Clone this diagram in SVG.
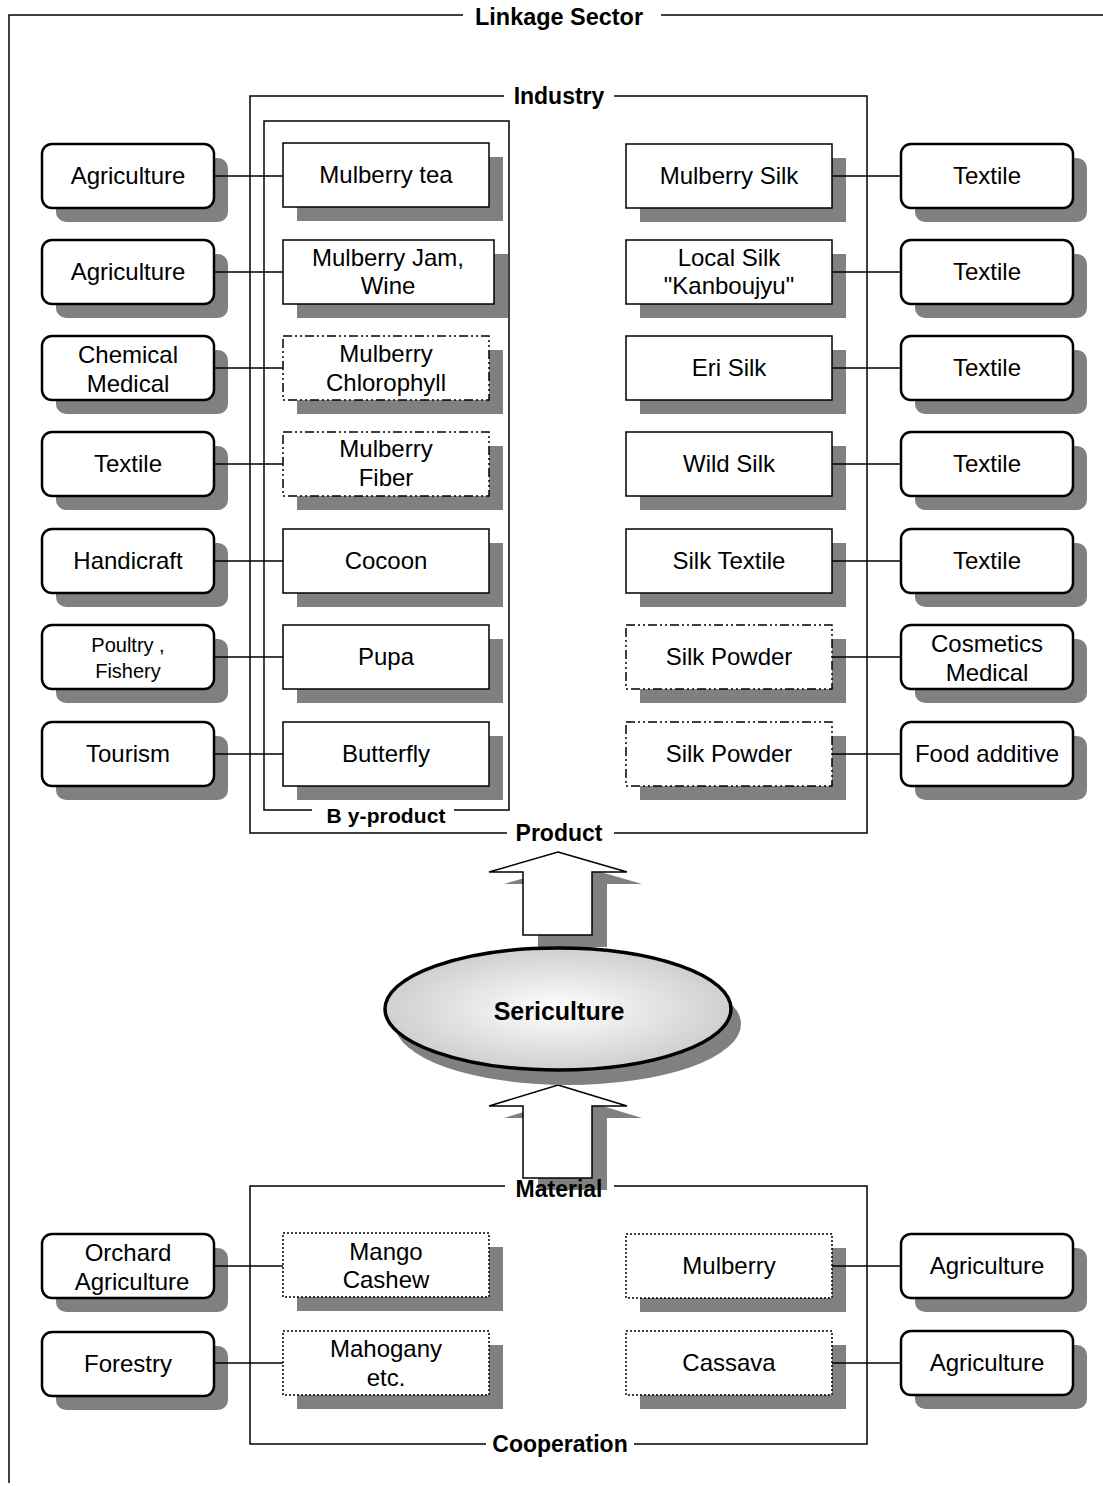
<svg xmlns="http://www.w3.org/2000/svg" width="1103" height="1486" viewBox="0 0 1103 1486">
<style>
.sh{fill:#808080;stroke:none}
.ext{fill:#fff;stroke:#000;stroke-width:2.5}
.prod{fill:#fff;stroke:#000;stroke-width:1.5}
.dd{stroke-dasharray:9 3 2 3 2 3}
.dot{stroke-dasharray:2 2}
.frame{fill:none;stroke:#000;stroke-width:1.5}
.conn{stroke:#000;stroke-width:1.5;fill:none}
.t{font-family:"Liberation Sans",Arial,sans-serif;font-size:24px;text-anchor:middle;fill:#000}
.ttl{font-family:"Liberation Sans",Arial,sans-serif;font-size:23px;font-weight:bold;text-anchor:middle;fill:#000}
.bg{fill:#fff;stroke:none}
</style>
<defs>
<radialGradient id="eg" cx="50%" cy="50%" r="50%">
<stop offset="0" stop-color="#ffffff"/>
<stop offset="1" stop-color="#cfcfcf"/>
</radialGradient>
</defs>
<rect width="1103" height="1486" fill="#fff"/>

<g id="frames">
<path class="frame" d="M1103,15 H9 V1483"/>
<rect class="bg" x="463" y="2" width="198" height="28"/>
<text class="ttl" x="559" y="25" textLength="168" lengthAdjust="spacingAndGlyphs">Linkage Sector</text>
<rect class="frame" x="250" y="96" width="617" height="737"/>
<rect class="frame" x="264" y="121" width="245" height="689"/>
<rect class="bg" x="504" y="84" width="110" height="24"/>
<text class="ttl" x="559" y="104">Industry</text>
<rect class="bg" x="507" y="820" width="107" height="26"/>
<text class="ttl" x="559" y="841">Product</text>
<rect class="bg" x="312" y="803" width="142" height="22"/>
<text class="ttl" x="386" y="823" style="font-size:21px" textLength="119" lengthAdjust="spacing">B y-product</text>
<rect class="frame" x="250" y="1186" width="617" height="258"/>
<rect class="bg" x="505" y="1175" width="109" height="24"/>
<rect class="bg" x="486" y="1432" width="148" height="26"/>
<text class="ttl" x="560" y="1452">Cooperation</text>
</g>

<g id="arrows">
<polygon class="sh" points="573,864 642,884 607,884 607,947 538,947 538,884 504,884"/>
<polygon fill="#fff" stroke="#000" stroke-width="1.5" points="558,852 627,872 592,872 592,935 523,935 523,872 489,872"/>
<polygon class="sh" points="573,1097 642,1118 607,1118 607,1190 538,1190 538,1118 504,1118"/>
<polygon fill="#fff" stroke="#000" stroke-width="1.5" points="558,1085 627,1106 592,1106 592,1178 523,1178 523,1106 489,1106"/>
<text class="ttl" x="559" y="1197">Material</text>
</g>

<g id="sericulture">
<ellipse class="sh" cx="568" cy="1024" rx="173" ry="61"/>
<ellipse cx="558" cy="1009" rx="173" ry="61" fill="url(#eg)" stroke="#000" stroke-width="3.5"/>
<text class="ttl" x="559" y="1020" style="font-size:25px">Sericulture</text>
</g>

<!-- Left external nodes -->
<g id="l1"><rect class="sh" x="56" y="158" width="172" height="64" rx="10"/><rect class="ext" x="42" y="144" width="172" height="64" rx="10"/><text class="t" x="128" y="184">Agriculture</text></g>
<g id="l2"><rect class="sh" x="56" y="254" width="172" height="64" rx="10"/><rect class="ext" x="42" y="240" width="172" height="64" rx="10"/><text class="t" x="128" y="280">Agriculture</text></g>
<g id="l3"><rect class="sh" x="56" y="350" width="172" height="64" rx="10"/><rect class="ext" x="42" y="336" width="172" height="64" rx="10"/><text class="t" x="128" y="363">Chemical</text><text class="t" x="128" y="392">Medical</text></g>
<g id="l4"><rect class="sh" x="56" y="446" width="172" height="64" rx="10"/><rect class="ext" x="42" y="432" width="172" height="64" rx="10"/><text class="t" x="128" y="472">Textile</text></g>
<g id="l5"><rect class="sh" x="56" y="543" width="172" height="64" rx="10"/><rect class="ext" x="42" y="529" width="172" height="64" rx="10"/><text class="t" x="128" y="569">Handicraft</text></g>
<g id="l6"><rect class="sh" x="56" y="639" width="172" height="64" rx="10"/><rect class="ext" x="42" y="625" width="172" height="64" rx="10"/><text class="t" x="128" y="652" style="font-size:20px">Poultry ,</text><text class="t" x="128" y="678" style="font-size:20px">Fishery</text></g>
<g id="l7"><rect class="sh" x="56" y="736" width="172" height="64" rx="10"/><rect class="ext" x="42" y="722" width="172" height="64" rx="10"/><text class="t" x="128" y="762">Tourism</text></g>

<!-- By-products -->
<g id="p1"><rect class="sh" x="297" y="157" width="206" height="64"/><rect class="prod" x="283" y="143" width="206" height="64"/><text class="t" x="386" y="183">Mulberry tea</text></g>
<g id="p2"><rect class="sh" x="297" y="254" width="211" height="64"/><rect class="prod" x="283" y="240" width="211" height="64"/><text class="t" x="388" y="266">Mulberry Jam,</text><text class="t" x="388" y="294">Wine</text></g>
<g id="p3"><rect class="sh" x="297" y="350" width="206" height="64"/><rect class="prod dd" x="283" y="336" width="206" height="64"/><text class="t" x="386" y="362">Mulberry</text><text class="t" x="386" y="391">Chlorophyll</text></g>
<g id="p4"><rect class="sh" x="297" y="446" width="206" height="64"/><rect class="prod dd" x="283" y="432" width="206" height="64"/><text class="t" x="386" y="457">Mulberry</text><text class="t" x="386" y="486">Fiber</text></g>
<g id="p5"><rect class="sh" x="297" y="543" width="206" height="64"/><rect class="prod" x="283" y="529" width="206" height="64"/><text class="t" x="386" y="569">Cocoon</text></g>
<g id="p6"><rect class="sh" x="297" y="639" width="206" height="64"/><rect class="prod" x="283" y="625" width="206" height="64"/><text class="t" x="386" y="665">Pupa</text></g>
<g id="p7"><rect class="sh" x="297" y="736" width="206" height="64"/><rect class="prod" x="283" y="722" width="206" height="64"/><text class="t" x="386" y="762">Butterfly</text></g>

<!-- Products -->
<g id="q1"><rect class="sh" x="640" y="158" width="206" height="64"/><rect class="prod" x="626" y="144" width="206" height="64"/><text class="t" x="729" y="184">Mulberry Silk</text></g>
<g id="q2"><rect class="sh" x="640" y="254" width="206" height="64"/><rect class="prod" x="626" y="240" width="206" height="64"/><text class="t" x="729" y="266">Local Silk</text><text class="t" x="729" y="294">"Kanboujyu"</text></g>
<g id="q3"><rect class="sh" x="640" y="350" width="206" height="64"/><rect class="prod" x="626" y="336" width="206" height="64"/><text class="t" x="729" y="376">Eri Silk</text></g>
<g id="q4"><rect class="sh" x="640" y="446" width="206" height="64"/><rect class="prod" x="626" y="432" width="206" height="64"/><text class="t" x="729" y="472">Wild Silk</text></g>
<g id="q5"><rect class="sh" x="640" y="543" width="206" height="64"/><rect class="prod" x="626" y="529" width="206" height="64"/><text class="t" x="729" y="569">Silk Textile</text></g>
<g id="q6"><rect class="sh" x="640" y="639" width="206" height="64"/><rect class="prod dd" x="626" y="625" width="206" height="64"/><text class="t" x="729" y="665">Silk Powder</text></g>
<g id="q7"><rect class="sh" x="640" y="736" width="206" height="64"/><rect class="prod dd" x="626" y="722" width="206" height="64"/><text class="t" x="729" y="762">Silk Powder</text></g>

<!-- Right external nodes -->
<g id="r1"><rect class="sh" x="915" y="158" width="172" height="64" rx="10"/><rect class="ext" x="901" y="144" width="172" height="64" rx="10"/><text class="t" x="987" y="184">Textile</text></g>
<g id="r2"><rect class="sh" x="915" y="254" width="172" height="64" rx="10"/><rect class="ext" x="901" y="240" width="172" height="64" rx="10"/><text class="t" x="987" y="280">Textile</text></g>
<g id="r3"><rect class="sh" x="915" y="350" width="172" height="64" rx="10"/><rect class="ext" x="901" y="336" width="172" height="64" rx="10"/><text class="t" x="987" y="376">Textile</text></g>
<g id="r4"><rect class="sh" x="915" y="446" width="172" height="64" rx="10"/><rect class="ext" x="901" y="432" width="172" height="64" rx="10"/><text class="t" x="987" y="472">Textile</text></g>
<g id="r5"><rect class="sh" x="915" y="543" width="172" height="64" rx="10"/><rect class="ext" x="901" y="529" width="172" height="64" rx="10"/><text class="t" x="987" y="569">Textile</text></g>
<g id="r6"><rect class="sh" x="915" y="639" width="172" height="64" rx="10"/><rect class="ext" x="901" y="625" width="172" height="64" rx="10"/><text class="t" x="987" y="652">Cosmetics</text><text class="t" x="987" y="681">Medical</text></g>
<g id="r7"><rect class="sh" x="915" y="736" width="172" height="64" rx="10"/><rect class="ext" x="901" y="722" width="172" height="64" rx="10"/><text class="t" x="987" y="762">Food additive</text></g>

<!-- Material -->
<g id="m1"><rect class="sh" x="297" y="1247" width="206" height="64"/><rect class="prod dot" x="283" y="1233" width="206" height="64"/><text class="t" x="386" y="1260">Mango</text><text class="t" x="386" y="1288">Cashew</text></g>
<g id="m2"><rect class="sh" x="297" y="1345" width="206" height="64"/><rect class="prod dot" x="283" y="1331" width="206" height="64"/><text class="t" x="386" y="1357">Mahogany</text><text class="t" x="386" y="1386">etc.</text></g>
<g id="m3"><rect class="sh" x="640" y="1248" width="206" height="64"/><rect class="prod dot" x="626" y="1234" width="206" height="64"/><text class="t" x="729" y="1274">Mulberry</text></g>
<g id="m4"><rect class="sh" x="640" y="1345" width="206" height="64"/><rect class="prod dot" x="626" y="1331" width="206" height="64"/><text class="t" x="729" y="1371">Cassava</text></g>
<g id="ml1"><rect class="sh" x="56" y="1248" width="172" height="64" rx="10"/><rect class="ext" x="42" y="1234" width="172" height="64" rx="10"/><text class="t" x="128" y="1261">Orchard</text><text class="t" x="132" y="1290">Agriculture</text></g>
<g id="ml2"><rect class="sh" x="56" y="1346" width="172" height="64" rx="10"/><rect class="ext" x="42" y="1332" width="172" height="64" rx="10"/><text class="t" x="128" y="1372">Forestry</text></g>
<g id="mr1"><rect class="sh" x="915" y="1248" width="172" height="64" rx="10"/><rect class="ext" x="901" y="1234" width="172" height="64" rx="10"/><text class="t" x="987" y="1274">Agriculture</text></g>
<g id="mr2"><rect class="sh" x="915" y="1345" width="172" height="64" rx="10"/><rect class="ext" x="901" y="1331" width="172" height="64" rx="10"/><text class="t" x="987" y="1371">Agriculture</text></g>

<g id="connectors">
<line class="conn" x1="214" y1="176" x2="283" y2="176"/>
<line class="conn" x1="214" y1="272" x2="283" y2="272"/>
<line class="conn" x1="214" y1="368" x2="283" y2="368"/>
<line class="conn" x1="214" y1="464" x2="283" y2="464"/>
<line class="conn" x1="214" y1="561" x2="283" y2="561"/>
<line class="conn" x1="214" y1="657" x2="283" y2="657"/>
<line class="conn" x1="214" y1="754" x2="283" y2="754"/>
<line class="conn" x1="832" y1="176" x2="901" y2="176"/>
<line class="conn" x1="832" y1="272" x2="901" y2="272"/>
<line class="conn" x1="832" y1="368" x2="901" y2="368"/>
<line class="conn" x1="832" y1="464" x2="901" y2="464"/>
<line class="conn" x1="832" y1="561" x2="901" y2="561"/>
<line class="conn" x1="832" y1="657" x2="901" y2="657"/>
<line class="conn" x1="832" y1="754" x2="901" y2="754"/>
<line class="conn" x1="214" y1="1266" x2="283" y2="1266"/>
<line class="conn" x1="214" y1="1363" x2="283" y2="1363"/>
<line class="conn" x1="832" y1="1266" x2="901" y2="1266"/>
<line class="conn" x1="832" y1="1363" x2="901" y2="1363"/>
</g>
</svg>
